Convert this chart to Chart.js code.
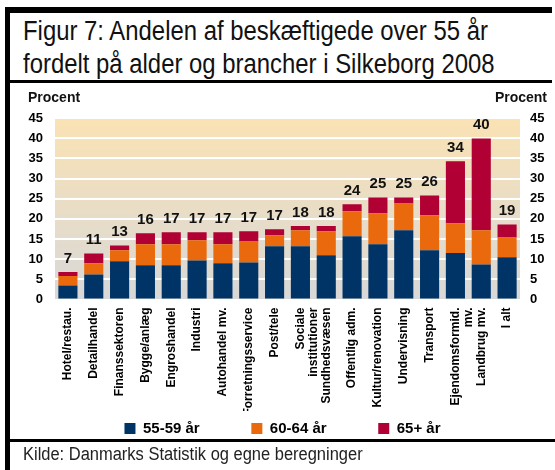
<!DOCTYPE html>
<html>
<head>
<meta charset="utf-8">
<script src="https://cdn.jsdelivr.net/npm/chart.js@4/dist/chart.umd.min.js"></script>
<style>
  html, body { margin: 0; padding: 0; background: #fff; }
  body { width: 555px; height: 470px; position: relative; overflow: hidden; font-family: "Liberation Sans", Arial, sans-serif; }
  .bar { position: absolute; background: #000; z-index: 2; }
  #title { position: absolute; left: 23px; top: 15px; font-size: 27px; line-height: 33px; color: #111; white-space: nowrap; transform: scaleX(0.885); transform-origin: left top; }
  #source { position: absolute; left: 23px; top: 444px; font-size: 18px; line-height: 20px; color: #222; white-space: nowrap; transform: scaleX(0.915); transform-origin: left top; }
  #chart { position: absolute; left: 10px; top: 83px; }
</style>
</head>
<body>
<div class="bar" style="left:5px; top:7px; width:547px; height:6px;"></div>
<div class="bar" style="left:5px; top:7px; width:5px; height:470px;"></div>
<div class="bar" style="left:5px; top:80px; width:547px; height:3px;"></div>
<div class="bar" style="left:5px; top:439px; width:550px; height:3px;"></div>
<div id="title">Figur 7: Andelen af beskæftigede over 55 år<br>fordelt på alder og brancher i Silkeborg 2008</div>
<canvas id="chart" width="545" height="363"></canvas>
<div id="source">Kilde: Danmarks Statistik og egne beregninger</div>
<script>
// Brancher (x-akse)
const categories = [
    "Hotel/restau.", "Detailhandel", "Finanssektoren", "Bygge/anlæg", "Engroshandel",
    "Industri", "Autohandel mv.", "Forretningsservice", "Post/tele", ["Sociale", "institutioner"],
    "Sundhedsvæsen", "Offentlig adm.", "Kultur/renovation", "Undervisning", "Transport",
    ["Ejendomsformid.", "mv."], "Landbrug mv.", "I alt"
];

// Andele i procent, aflæst
const age5559 = [3.5, 6.2, 9.5, 8.5, 8.5, 9.7, 9.0, 9.2, 13.2, 13.2, 11.0, 15.7, 13.7, 17.2, 12.2, 11.5, 8.7, 10.5];
const age6064 = [2.3, 2.8, 2.7, 5.2, 5.2, 5.0, 4.7, 5.2, 2.7, 4.0, 5.9, 6.2, 7.7, 6.6, 8.7, 7.4, 8.5, 4.9];
const age65 = [1.0, 2.4, 1.2, 2.7, 3.0, 2.0, 3.0, 2.5, 1.5, 1.0, 1.3, 1.7, 3.9, 1.5, 4.9, 15.4, 22.7, 3.2];

// Tal over søjlerne
const totals = [7, 11, 13, 16, 17, 17, 17, 17, 17, 18, 18, 24, 25, 25, 26, 34, 40, 19];

const seriesNames = ["55-59 år", "60-64 år", "65+ år"];
const colors = ["#003366", "#e9690c", "#b00034"];

const yTicks = [0, 5, 10, 15, 20, 25, 30, 35, 40, 45];

Chart.defaults.font.family = "'Liberation Sans', Arial, sans-serif";
Chart.defaults.color = "#000";

// gradient behind the plot
const plotBackground = {
    id: "plotBackground",
    beforeDraw(chart) {
        const {ctx, chartArea} = chart;
        const g = ctx.createLinearGradient(0, chartArea.top, 0, chartArea.bottom);
        g.addColorStop(0, "rgb(250,226,180)");
        g.addColorStop(1, "rgb(216,216,216)");
        ctx.save();
        ctx.fillStyle = g;
        ctx.fillRect(chartArea.left, chartArea.top, chartArea.right - chartArea.left, chartArea.bottom - chartArea.top);
        ctx.restore();
    }
};

// totals above the stacks + "Procent" over both axes
const extraText = {
    id: "extraText",
    afterDatasetsDraw(chart) {
        const {ctx} = chart;
        const top = chart.getDatasetMeta(chart.data.datasets.length - 1);
        ctx.save();
        ctx.font = "bold 15px 'Liberation Sans', Arial, sans-serif";
        ctx.fillStyle = "#111";
        ctx.textAlign = "center";
        ctx.textBaseline = "bottom";
        top.data.forEach((bar, i) => {
            ctx.fillText(String(totals[i]), bar.x, bar.y - 6);
        });
        ctx.font = "bold 14px 'Liberation Sans', Arial, sans-serif";
        ctx.textBaseline = "middle";
        ctx.textAlign = "left";
        ctx.fillText("Procent", 18, 15);
        ctx.textAlign = "right";
        ctx.fillText("Procent", 537, 15);
        ctx.restore();
    }
};

const ctx = document.getElementById("chart").getContext("2d");

new Chart(ctx, {
    type: "bar",
    data: {
        labels: categories,
        datasets: [age5559, age6064, age65].map((d, i) => ({
            label: seriesNames[i],
            data: d,
            backgroundColor: colors[i],
            borderWidth: 0,
            barPercentage: 0.74,
            categoryPercentage: 1.0
        }))
    },
    options: {
        responsive: false,
        animation: false,
        layout: { padding: { top: 35, left: 0, right: 0, bottom: 0 } },
        plugins: {
            tooltip: { enabled: false },
            legend: {
                position: "bottom",
                labels: {
                    boxWidth: 11,
                    boxHeight: 11,
                    padding: 10,
                    color: "#000",
                    font: { size: 15, weight: "bold" },
                    generateLabels(chart) {
                        const items = Chart.defaults.plugins.legend.labels.generateLabels(chart);
                        items.forEach((it, i) => {
                            if (i < items.length - 1) it.text = it.text + "          ";
                        });
                        return items;
                    }
                }
            }
        },
        scales: {
            x: {
                stacked: true,
                grid: { display: false, drawTicks: false },
                border: { display: false },
                ticks: {
                    autoSkip: false,
                    maxRotation: 90,
                    minRotation: 90,
                    padding: 8,
                    font: { size: 12, weight: "bold", lineHeight: 1.1 }
                },
                afterFit(scale) { scale.height = 111.5; }
            },
            y: {
                stacked: true,
                position: "left",
                min: 0,
                max: 45,
                afterBuildTicks(scale) { scale.ticks = yTicks.map(v => ({value: v})); },
                grid: { color: "#ffffff", lineWidth: 2, drawTicks: false },
                border: { display: false },
                ticks: { padding: 12, font: { size: 13, weight: "bold" } },
                afterFit(scale) { scale.width = 45; }
            },
            y2: {
                position: "right",
                min: 0,
                max: 45,
                afterBuildTicks(scale) { scale.ticks = yTicks.map(v => ({value: v})); },
                grid: { display: false, drawTicks: false },
                border: { display: false },
                ticks: { padding: 10, font: { size: 13, weight: "bold" } },
                afterFit(scale) { scale.width = 35; }
            }
        }
    },
    plugins: [plotBackground, extraText]
});
</script>
</body>
</html>
